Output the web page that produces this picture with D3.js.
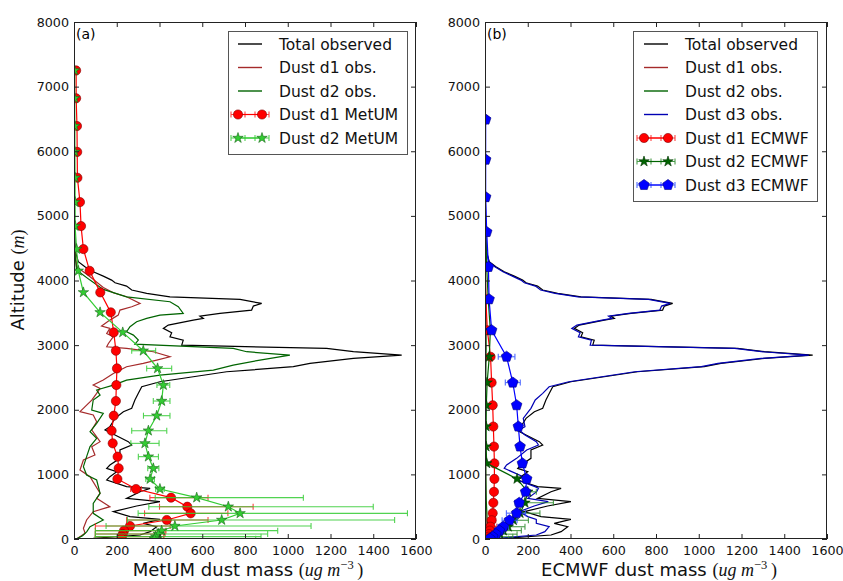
<!DOCTYPE html>
<html><head><meta charset="utf-8">
<script src="https://cdn.jsdelivr.net/npm/d3@7"></script>
<style>body{margin:0;background:#fff}svg{display:block}</style>
</head><body>
<svg id="c" width="843" height="581"></svg>
<script>
// ---------------- DATA ----------------
const altTicks = [0,1000,2000,3000,4000,5000,6000,7000,8000];
const massTicks = [0,200,400,600,800,1000,1200,1400,1600];

// Total observed (shared by both panels)
const totAlt = [5700,5200,4800,4470,4290,4213,4135,4068,4006,3965,3913,3852,3800,3748,3707,3645,3604,3542,3491,3449,3413,3387,3310,3259,3191,3130,3078,2999,2949,2898,2846,2794,2717,2666,2588,2511,2433,2356,2254,2151,2022,1970,1867,1738,1686,1609,1506,1454,1377,1248,1145,1093,1042,964,913,810,784,732,629,578,511,423,346,304,243,191,114,62,11,0];
const totVal = [0,2,3,5,20,51,90,137,176,192,246,270,340,449,777,878,839,831,683,589,605,558,441,418,457,449,511,504,1182,1307,1533,1307,1104,1026,714,558,402,317,301,285,270,231,192,168,145,192,254,270,215,215,168,153,200,168,153,246,356,309,246,402,293,184,262,402,324,387,356,309,90,12];

// Panel (a) observed size bins
const aD1Alt = [5600,5000,4600,4213,4058,3893,3810,3748,3645,3594,3542,3465,3387,3295,3259,3181,3130,3026,2975,2949,2898,2820,2769,2717,2666,2562,2459,2382,2330,2253,2150,1970,1919,1815,1686,1506,1429,1300,1222,1068,964,707,629,500,423,294,165,88,0];
const aD1Val = [0,1,2,12,75,137,184,246,309,270,215,207,168,129,168,153,184,161,153,246,371,449,387,324,246,184,137,90,122,106,83,28,90,106,83,122,83,98,44,28,75,122,106,168,90,59,44,52,12];
const aD2Alt = [5700,5200,4700,4400,4161,4006,3862,3748,3671,3594,3491,3465,3413,3362,3284,3207,3155,3078,3016,2949,2898,2846,2769,2691,2614,2537,2459,2382,2305,2227,2151,1996,1944,1790,1661,1558,1429,1274,1119,990,913,707,552,397,294,191,114,50,0];
const aD2Val = [0,1,2,5,12,75,137,246,449,488,511,402,340,293,262,246,278,301,285,745,808,1010,870,745,652,402,246,184,106,122,90,83,137,106,75,106,75,59,44,59,106,122,90,90,137,75,60,40,10];

// MetUM model levels and values
const umAlt = [7250,6820,6390,5990,5590,5213,4842,4486,4150,3816,3507,3197,2913,2640,2382,2135,1908,1676,1480,1274,1094,928,774,640,500,397,294,201,129,77,36,5];
const umD1 = [10,10,14,15,16,28,33,44,73,123,172,186,196,201,198,196,186,176,181,204,209,203,290,454,530,546,434,262,234,228,223,223];
const umD1Lo = [10,10,14,15,16,28,33,44,73,123,172,186,196,201,198,196,186,176,181,204,209,203,265,355,400,330,246,100,100,100,100,100];
const umD1Hi = [10,10,14,15,16,28,33,44,73,123,172,186,196,201,198,196,186,176,181,204,209,203,315,627,838,720,627,450,430,426,420,420];
const umD2 = [3,3,4,4,5,5,5,12,20,44,122,228,324,391,418,410,387,348,332,348,371,356,402,574,722,777,691,472,410,395,382,376];
const umD2Lo = [3,3,4,4,5,5,5,12,20,44,122,228,270,340,388,371,325,270,266,301,345,336,382,380,350,300,250,150,100,100,100,100];
const umD2Hi = [3,3,4,4,5,5,5,12,20,44,122,228,382,457,448,449,449,434,398,395,397,376,422,1073,1400,1560,1500,1109,953,906,875,850];

// Panel (b) observed size bins
const bD1Alt = [5600,4200,3700,3000,2600,2000,1500,1000,600,300,100,0];
const bD1Val = [0,0,2,3,2,2,2,3,3,5,8,4];
const bD2Alt = [5600,4200,3700,3000,2600,2000,1500,1000,600,300,100,0];
const bD2Val = [0,1,4,5,4,3,3,4,6,10,15,6];
const bD3Alt = totAlt;
const bD3Val = [0,2,3,5,18,46,84,128,168,184,236,260,328,435,765,866,826,818,672,578,594,548,430,406,445,437,498,492,1168,1293,1515,1292,1090,1012,700,546,392,300,270,235,215,203,179,187,160,187,240,250,195,148,101,90,125,179,150,234,250,242,200,296,230,160,200,240,240,300,280,240,60,8];

// ECMWF model levels and values
const ecAlt = [6490,5870,5290,4750,4210,3710,3230,2820,2420,2070,1740,1430,1170,930,730,560,400,290,190,130,75,35,5];
const ecD1 = [0,0,0,1,2,4,11,26,31,36,39,42,44,44,42,39,36,31,26,23,19,16,14];
const ecD1Lo = [0,0,0,1,2,4,11,24,29,34,37,40,42,42,40,37,30,20,10,5,5,5,5];
const ecD1Hi = [0,0,0,1,2,4,11,30,34,38,41,44,46,46,45,43,45,50,55,50,45,40,35];
const ecD2 = [0,0,1,3,8,15,25,20,10,6,5,5,8,150,200,187,164,133,109,86,70,55,45];
const ecD2Lo = [0,0,1,3,8,15,25,20,10,6,5,5,8,140,180,160,130,100,80,60,50,40,30];
const ecD2Hi = [0,0,1,3,8,15,25,20,10,6,5,5,8,160,240,320,257,203,187,170,150,130,110];
const ecD3 = [3,3,3,8,16,19,31,101,130,148,156,164,175,195,190,160,148,114,86,67,51,36,23];
const ecD3Lo = [3,3,3,8,16,19,28,62,95,140,150,158,170,188,180,140,100,80,60,45,35,25,15];
const ecD3Hi = [3,3,3,8,16,19,34,140,165,156,162,170,180,202,200,180,190,150,110,90,70,50,35];

// ---------------- DRAWING ----------------
const svg = d3.select('#c');
const Y0 = 539, Y1 = 22;
const FONT = "'DejaVu Sans', sans-serif";

function pentPath(r) {
  const pts = d3.range(5).map(i => {
    const a = -Math.PI/2 + i * 2*Math.PI/5;
    return [r*Math.cos(a), r*Math.sin(a)];
  });
  return 'M' + pts.map(p => p.join(',')).join('L') + 'Z';
}
const markerPaths = {
  circle: d3.symbol(d3.symbolCircle, Math.PI*4.6*4.6)(),
  star: d3.symbol(d3.symbolStar, 34)(),
  pent: pentPath(5.6)
};

function zip(a, v) { return a.map((al, i) => ({a: al, v: v[i]})); }

function panel(cfg) {
  const x = d3.scaleLinear().domain([0, 1600]).range([cfg.x0, cfg.x1]);
  const y = d3.scaleLinear().domain([0, 8000]).range([Y0, Y1]);
  const g = svg.append('g');
  const cid = 'clip' + cfg.id;
  svg.append('clipPath').attr('id', cid).append('rect')
    .attr('x', cfg.x0).attr('y', Y1).attr('width', cfg.x1 - cfg.x0).attr('height', Y0 - Y1);
  const plot = g.append('g').attr('clip-path', `url(#${cid})`);
  const line = d3.line().x(d => x(d.v)).y(d => y(d.a));

  cfg.obs.forEach(s => {
    plot.append('path').attr('d', line(zip(s.alt, s.val)))
      .attr('fill', 'none').attr('stroke', s.color).attr('stroke-width', 1.2)
      .attr('stroke-linejoin', 'miter');
  });
  cfg.models.forEach(s => {
    const pts = s.alt.map((a, i) => ({a, v: s.val[i], lo: s.lo[i], hi: s.hi[i]}));
    const eb = plot.append('g').attr('stroke', s.ecolor).attr('stroke-width', 1.1).attr('opacity', 0.85);
    pts.filter(p => p.hi - p.lo > 0.5).forEach(p => {
      eb.append('line').attr('x1', x(p.lo)).attr('x2', x(p.hi)).attr('y1', y(p.a)).attr('y2', y(p.a));
      [p.lo, p.hi].forEach(e => eb.append('line').attr('x1', x(e)).attr('x2', x(e)).attr('y1', y(p.a) - 3).attr('y2', y(p.a) + 3));
    });
    plot.append('path').attr('d', line(pts)).attr('fill', 'none').attr('stroke', s.color).attr('stroke-width', 1.2);
    plot.append('g').selectAll('path').data(pts).join('path')
      .attr('d', markerPaths[s.marker])
      .attr('transform', d => `translate(${x(d.v)},${y(d.a)})`)
      .attr('fill', s.color).attr('stroke', s.edge).attr('stroke-width', 0.6);
  });

  // axes (ticks inside on all four sides)
  const fmt = d3.format('d');
  const ax = g.append('g').attr('transform', `translate(0,${Y0})`)
    .call(d3.axisBottom(x).tickValues(massTicks).tickFormat(fmt).tickSizeInner(-5).tickSizeOuter(0).tickPadding(7));
  const axT = g.append('g').attr('transform', `translate(0,${Y1})`)
    .call(d3.axisTop(x).tickValues(massTicks).tickFormat('').tickSizeInner(-5).tickSizeOuter(0));
  const ay = g.append('g').attr('transform', `translate(${cfg.x0},0)`)
    .call(d3.axisLeft(y).tickValues(altTicks).tickFormat(fmt).tickSizeInner(-5).tickSizeOuter(0).tickPadding(5));
  const ayR = g.append('g').attr('transform', `translate(${cfg.x1},0)`)
    .call(d3.axisRight(y).tickValues(altTicks).tickFormat('').tickSizeInner(-5).tickSizeOuter(0));
  [ax, axT, ay, ayR].forEach(a => {
    a.select('.domain').remove();
    a.selectAll('line').attr('stroke', '#222');
    a.selectAll('text').attr('font-family', FONT).attr('font-size', 12.7).attr('fill', '#111');
  });
  g.append('rect').attr('x', cfg.x0 + 0.5).attr('y', Y1 + 0.5)
    .attr('width', cfg.x1 - cfg.x0 - 1).attr('height', Y0 - Y1 - 1)
    .attr('fill', 'none').attr('stroke', '#222').attr('stroke-width', 1);

  // panel tag
  g.append('text').attr('x', cfg.x0 + 2).attr('y', 39).attr('font-family', FONT).attr('font-size', 14).text(cfg.tag);

  // x label with math part
  const xl = g.append('text').attr('x', (cfg.x0 + cfg.x1) / 2 + 3).attr('y', 576)
    .attr('text-anchor', 'middle').attr('font-family', FONT).attr('font-size', 18).attr('fill', '#111');
  xl.append('tspan').text(cfg.xlabel + ' ');
  xl.append('tspan').attr('font-family', "'Liberation Serif', serif").text('(');
  xl.append('tspan').attr('font-family', "'Liberation Serif', serif").attr('font-style', 'italic').text('ug m');
  xl.append('tspan').attr('font-family', "'Liberation Serif', serif").attr('font-size', 12.5).attr('dy', -7).text('\u22123');
  xl.append('tspan').attr('font-family', "'Liberation Serif', serif").attr('dy', 7).text('\u2009)');

  // legend
  const L = cfg.legend;
  const lg = g.append('g');
  lg.append('rect').attr('x', L.x + 0.5).attr('y', L.y + 0.5).attr('width', L.w).attr('height', L.h)
    .attr('fill', '#fff').attr('stroke', '#555').attr('stroke-width', 1);
  L.items.forEach((it, i) => {
    const cy = L.y + 13 + i * 23.5;
    const hx0 = L.hx, hx1 = L.hx + 24;
    if (it.marker) {
      const e = lg.append('g').attr('stroke', it.ecolor).attr('stroke-width', 1.1).attr('opacity', 0.85);
      e.append('line').attr('x1', hx0 - 7).attr('x2', hx1 + 7).attr('y1', cy).attr('y2', cy);
      [hx0 - 7, hx0 + 7, hx1 - 7, hx1 + 7].forEach(cx => e.append('line').attr('x1', cx).attr('x2', cx).attr('y1', cy - 3).attr('y2', cy + 3));
      lg.append('line').attr('x1', hx0).attr('x2', hx1).attr('y1', cy).attr('y2', cy).attr('stroke', it.color).attr('stroke-width', 1.2);
      [hx0, hx1].forEach(cx => lg.append('path').attr('d', markerPaths[it.marker])
        .attr('transform', `translate(${cx},${cy})`).attr('fill', it.color).attr('stroke', it.edge).attr('stroke-width', 0.6));
    } else {
      lg.append('line').attr('x1', hx0).attr('x2', hx1).attr('y1', cy).attr('y2', cy).attr('stroke', it.color).attr('stroke-width', 1.4);
    }
    lg.append('text').attr('x', L.tx).attr('y', cy + 5.5).attr('font-family', FONT).attr('font-size', 15.5)
      .attr('fill', '#111').text(it.label);
  });
}

const C = {
  black: '#000000', d1obs: '#a52a2a', d2obs: '#006400', d3obs: '#0000b4',
  red: '#ff0000', lime: '#33cc33', dgreen: '#006400', blue: '#0000ff'
};

panel({
  id: 'a', x0: 74, x1: 416, tag: '(a)', xlabel: 'MetUM dust mass',
  obs: [
    {alt: totAlt, val: totVal, color: C.black},
    {alt: aD1Alt, val: aD1Val, color: C.d1obs},
    {alt: aD2Alt, val: aD2Val, color: C.d2obs}
  ],
  models: [
    {alt: umAlt, val: umD1, lo: umD1Lo, hi: umD1Hi, color: C.red, ecolor: '#ff2020', edge: '#800000', marker: 'circle'},
    {alt: umAlt, val: umD2, lo: umD2Lo, hi: umD2Hi, color: C.lime, ecolor: '#33cc33', edge: '#1a661a', marker: 'star'}
  ],
  legend: {x: 228, y: 31, w: 179, h: 123, hx: 238, tx: 279, items: [
    {label: 'Total observed', color: C.black},
    {label: 'Dust d1 obs.', color: C.d1obs},
    {label: 'Dust d2 obs.', color: C.d2obs},
    {label: 'Dust d1 MetUM', color: C.red, ecolor: '#ff2020', edge: '#800000', marker: 'circle'},
    {label: 'Dust d2 MetUM', color: C.lime, ecolor: '#33cc33', edge: '#1a661a', marker: 'star'}
  ]}
});

panel({
  id: 'b', x0: 485, x1: 827, tag: '(b)', xlabel: 'ECMWF dust mass',
  obs: [
    {alt: totAlt, val: totVal, color: C.black},
    {alt: bD1Alt, val: bD1Val, color: C.d1obs},
    {alt: bD2Alt, val: bD2Val, color: C.d2obs},
    {alt: bD3Alt, val: bD3Val, color: C.d3obs}
  ],
  models: [
    {alt: ecAlt, val: ecD1, lo: ecD1Lo, hi: ecD1Hi, color: C.red, ecolor: '#ff2020', edge: '#800000', marker: 'circle'},
    {alt: ecAlt, val: ecD2, lo: ecD2Lo, hi: ecD2Hi, color: C.dgreen, ecolor: '#2a8a2a', edge: '#003300', marker: 'star'},
    {alt: ecAlt, val: ecD3, lo: ecD3Lo, hi: ecD3Hi, color: C.blue, ecolor: '#3050ff', edge: '#000080', marker: 'pent'}
  ],
  legend: {x: 633, y: 31, w: 184, h: 170, hx: 644, tx: 685, items: [
    {label: 'Total observed', color: C.black},
    {label: 'Dust d1 obs.', color: C.d1obs},
    {label: 'Dust d2 obs.', color: C.d2obs},
    {label: 'Dust d3 obs.', color: C.d3obs},
    {label: 'Dust d1 ECMWF', color: C.red, ecolor: '#ff2020', edge: '#800000', marker: 'circle'},
    {label: 'Dust d2 ECMWF', color: C.dgreen, ecolor: '#2a8a2a', edge: '#003300', marker: 'star'},
    {label: 'Dust d3 ECMWF', color: C.blue, ecolor: '#3050ff', edge: '#000080', marker: 'pent'}
  ]}
});

// y label (left panel only)
svg.append('text').attr('transform', 'translate(24,280) rotate(-90)')
  .attr('text-anchor', 'middle').attr('font-family', FONT).attr('font-size', 18).attr('fill', '#111')
  .call(t => {
    t.append('tspan').text('Altitude ');
    t.append('tspan').attr('font-family', "'Liberation Serif', serif").text('(');
    t.append('tspan').attr('font-family', "'Liberation Serif', serif").attr('font-style', 'italic').text('m');
    t.append('tspan').attr('font-family', "'Liberation Serif', serif").text(')');
  });
</script>
</body></html>
